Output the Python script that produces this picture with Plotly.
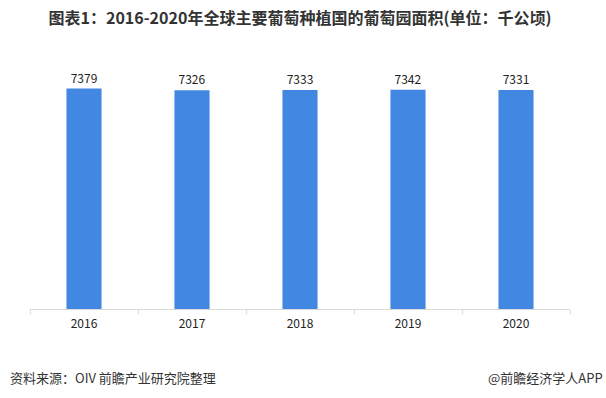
import plotly.graph_objects as go

years = ["2016", "2017", "2018", "2019", "2020"]
area = [7379, 7326, 7333, 7342, 7331]
value_labels = ["7379", "7326", "7333", "7342", "7331"]

title_text = "图表1：2016-2020年全球主要葡萄种植国的葡萄园面积(单位：千公顷)"
source_text = "资料来源：OIV 前瞻产业研究院整理"
brand_text = "@前瞻经济学人APP"

FONT = "Noto Sans CJK SC, Noto Sans, sans-serif"

fig = go.Figure(
    go.Bar(
        x=years,
        y=area,
        text=value_labels,
        textposition="outside",
        textfont=dict(size=12, color="#222222", family=FONT),
        marker=dict(color="#4287E2", line=dict(width=0)),
        width=0.325,
        cliponaxis=False,
        hoverinfo="skip",
    )
)

fig.update_layout(
    width=606,
    height=398,
    margin=dict(l=30, r=36, t=70, b=88.5),
    paper_bgcolor="white",
    plot_bgcolor="white",
    showlegend=False,
    font=dict(family=FONT, color="#333333"),
    title=dict(
        text="<b>" + title_text + "</b>",
        x=0.5,
        xanchor="center",
        xref="paper",
        y=1 - 18.5 / 398,
        yanchor="middle",
        yref="container",
        font=dict(size=16, color="#333333", family=FONT),
    ),
)

fig.update_xaxes(
    type="category",
    showline=True,
    linecolor="#D9D9D9",
    linewidth=1,
    ticks="outside",
    tickson="boundaries",
    ticklen=4,
    tickcolor="#D9D9D9",
    ticklabelstandoff=4,
    tickfont=dict(size=12, color="#222222", family=FONT),
    showgrid=False,
)
fig.update_yaxes(range=[0, 8000], visible=False, showgrid=False)

fig.add_annotation(
    text=source_text,
    xref="paper", yref="paper",
    x=-22 / 540, y=-(378 - 309.5) / 239.5,
    xanchor="left", yanchor="middle",
    showarrow=False,
    font=dict(size=13, color="#333333", family=FONT),
)
fig.add_annotation(
    text=brand_text,
    xref="paper", yref="paper",
    x=(605 - 30) / 540, y=-(378 - 309.5) / 239.5,
    xanchor="right", yanchor="middle",
    showarrow=False,
    font=dict(size=13, color="#333333", family=FONT),
)

fig.write_html(
    "out.html",
    config={"displayModeBar": False},
    post_script="document.body.style.margin='0';",
)
